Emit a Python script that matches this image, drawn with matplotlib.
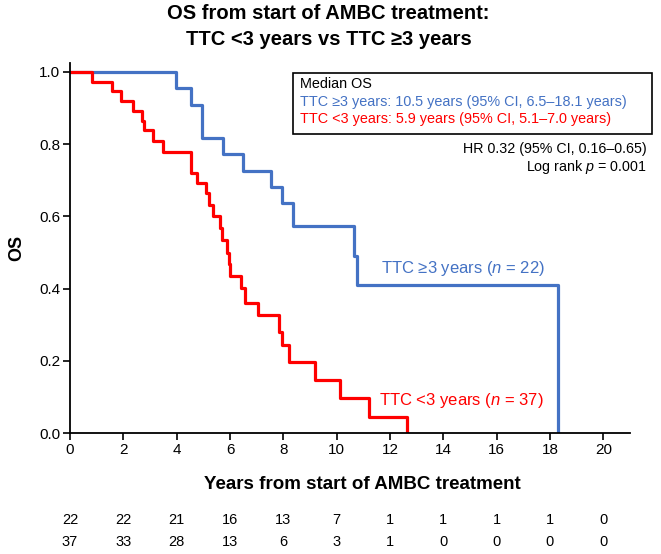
import matplotlib
matplotlib.use("Agg")
import matplotlib.pyplot as plt
from matplotlib.patches import Rectangle
from matplotlib.transforms import blended_transform_factory

plt.rcParams['font.family'] = ['Liberation Sans', 'DejaVu Sans']
plt.rcParams['mathtext.fontset'] = 'custom'
plt.rcParams['mathtext.rm'] = 'Liberation Sans'
plt.rcParams['mathtext.it'] = 'Liberation Sans:italic'

# Kaplan-Meier steps (years, OS after each event)
ttc_ge3_time = [0, 3.96, 4.52, 4.93, 5.74, 6.49, 7.55, 7.95, 8.36, 10.64, 10.76, 18.3]
ttc_ge3_os = [1.0, 0.955, 0.909, 0.818, 0.773, 0.727, 0.682, 0.636, 0.573, 0.49, 0.41, 0.0]

ttc_lt3_time = [0, 0.84, 1.56, 1.91, 2.35, 2.71, 2.78, 3.1, 3.48, 4.52, 4.75, 5.1, 5.22,
                5.38, 5.62, 5.69, 5.9, 5.95, 6.0, 6.4, 6.56, 7.06, 7.82, 7.94, 8.22,
                9.19, 10.12, 11.22, 12.62]
ttc_lt3_os = [1.0, 0.973, 0.946, 0.919, 0.892, 0.865, 0.838, 0.808, 0.778, 0.72, 0.693,
              0.664, 0.632, 0.601, 0.567, 0.535, 0.498, 0.468, 0.435, 0.401, 0.361,
              0.327, 0.281, 0.244, 0.198, 0.147, 0.096, 0.045, 0.0]

risk_times = [0, 2, 4, 6, 8, 10, 12, 14, 16, 18, 20]
risk_ge3 = [22, 22, 21, 16, 13, 7, 1, 1, 1, 1, 0]
risk_lt3 = [37, 33, 28, 13, 6, 3, 1, 0, 0, 0, 0]

blue = '#4472C4'
red = '#FF0000'

fig = plt.figure(figsize=(6.61, 5.54), dpi=100)
ax = fig.add_axes([0.106, 0.2184, 0.847, 0.668])

ax.step(ttc_ge3_time, ttc_ge3_os, where='post', color=blue, lw=2.3)
ax.step(ttc_lt3_time, ttc_lt3_os, where='post', color=red, lw=2.3)

ax.set_xlim(0, 21)
ax.set_ylim(0, 1.025)
ax.set_xticks(range(0, 21, 2))
ax.set_yticks([0, 0.2, 0.4, 0.6, 0.8, 1.0])
ax.set_yticklabels(['0.0', '0.2', '0.4', '0.6', '0.8', '1.0'])
ax.spines['top'].set_visible(False)
ax.spines['right'].set_visible(False)
for s in ['left', 'bottom']:
    ax.spines[s].set_linewidth(1.3)
ax.tick_params(labelsize=11, length=5, width=1.2, pad=2)
ax.set_ylabel('OS', fontsize=13, fontweight='bold', labelpad=10)

ax.text(11.66, 0.457, r'TTC ≥3 years ($\it{n}$ = 22)', color=blue, fontsize=12, va='center')
ax.text(11.59, 0.091, r'TTC <3 years ($\it{n}$ = 37)', color=red, fontsize=12, va='center')

fig.text(0.497, 0.975, 'OS from start of AMBC treatment:', ha='center', va='center',
         fontsize=14.5, fontweight='bold')
fig.text(0.497, 0.929, 'TTC <3 years vs TTC ≥3 years', ha='center', va='center',
         fontsize=14.5, fontweight='bold')
fig.text(0.548, 0.126, 'Years from start of AMBC treatment', ha='center', va='center',
         fontsize=13.5, fontweight='bold')

# median OS box
fig.patches.append(Rectangle((0.443, 0.758), 0.543, 0.110, transform=fig.transFigure,
                             fill=False, edgecolor='black', lw=1.2, figure=fig))
fig.text(0.454, 0.848, 'Median OS', fontsize=10.4, va='center')
fig.text(0.454, 0.816, 'TTC ≥3 years: 10.5 years (95% CI, 6.5–18.1 years)', fontsize=10.4,
         va='center', color=blue)
fig.text(0.454, 0.785, 'TTC <3 years: 5.9 years (95% CI, 5.1–7.0 years)', fontsize=10.4,
         va='center', color=red)
fig.text(0.978, 0.731, 'HR 0.32 (95% CI, 0.16–0.65)', fontsize=10.3, va='center', ha='right')
fig.text(0.978, 0.699, r'Log rank $\it{p}$ = 0.001', fontsize=10.3, va='center', ha='right')

# numbers at risk
tr = blended_transform_factory(ax.transData, fig.transFigure)
for t, a, b in zip(risk_times, risk_ge3, risk_lt3):
    ax.text(t, 0.0614, str(a), transform=tr, ha='center', va='center', fontsize=10.5, clip_on=False)
    ax.text(t, 0.0217, str(b), transform=tr, ha='center', va='center', fontsize=10.5, clip_on=False)

fig.savefig('out.png', dpi=100)
